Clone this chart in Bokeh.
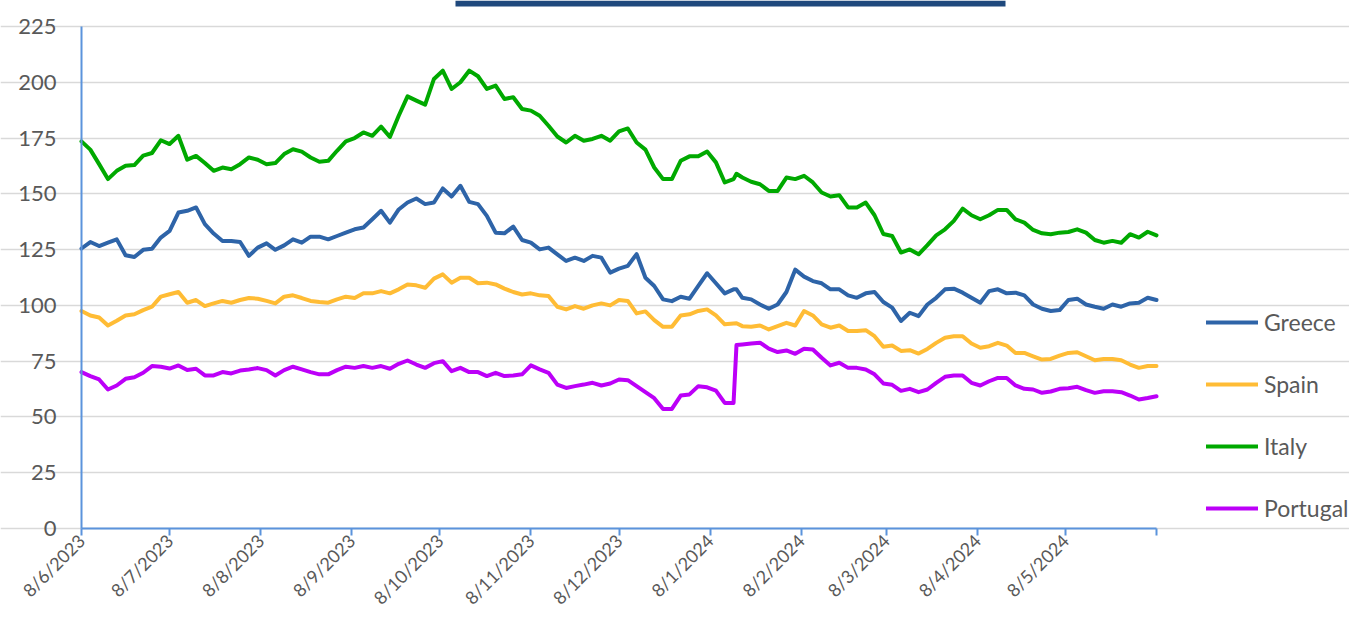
import math
import pandas as pd
from bokeh.plotting import figure
from bokeh.models import (FixedTicker, CustomJSTickFormatter, Legend, LegendItem,
                          BoxAnnotation, Range1d, ColumnDataSource)
from bokeh.embed import file_html
from bokeh.resources import INLINE

# ---------------- data ----------------
start_date = pd.Timestamp("2023-06-08")
end_date = pd.Timestamp("2024-06-08")
day_offsets = list(range(0, 223, 3)) + [223] + list(range(225, 367, 3))
dates = [start_date + pd.Timedelta(days=d) for d in day_offsets]

series_names = ["Greece", "Spain", "Italy", "Portugal"]

greece = [
    125.5, 128.4, 126.6, 128.1, 129.6, 122.5, 121.7, 124.9, 125.4, 130.4, 133.4, 141.6, 142.4, 143.9,
    136.4, 132.2, 128.9, 128.9, 128.4, 122.2, 125.9, 127.8, 124.9, 126.9, 129.6, 128.1, 130.8, 130.8,
    129.6, 131.1, 132.6,
    134.1, 134.9, 138.6, 142.4, 137.1, 143.0, 146.1, 147.9, 145.4, 146.1, 152.4, 148.8, 153.6, 146.4,
    145.4, 140.1, 132.6, 132.3, 135.3, 129.3, 128.1, 125.1, 125.9, 122.9, 119.9, 121.4, 119.9, 122.2,
    121.4, 114.7, 116.5,
    117.7, 123.0, 112.4, 108.7, 102.7, 101.9, 103.9, 103.0, 108.7, 114.4, 109.9, 105.4, 107.2, 107.2,
    103.4, 102.7, 100.4, 98.5, 100.4, 106.0, 116.0, 112.9, 110.9, 109.9, 107.2, 107.2, 104.5, 103.4,
    105.4, 106.0, 101.5,
    99.0, 93.0, 96.7, 95.2, 100.4, 103.4, 107.2, 107.5, 105.7, 103.4, 101.2, 106.4, 107.2, 105.4,
    105.7, 104.5, 100.4, 98.5, 97.5, 97.9, 102.4, 103.0, 100.4, 99.4, 98.5, 100.4, 99.4, 100.9,
    101.2, 103.4, 102.4,
]

spain = [
    97.5, 95.5, 94.6, 91.0, 93.1, 95.5, 96.0, 97.9, 99.4, 103.9, 105.0, 106.0, 101.2, 102.4,
    99.7, 100.9, 102.0, 101.2, 102.4, 103.3, 103.0, 102.0, 100.9, 103.9, 104.5, 103.3, 102.0, 101.5,
    101.2, 102.7, 103.9,
    103.3, 105.4, 105.4, 106.4, 105.4, 107.2, 109.4, 109.0, 107.9, 112.0, 113.9, 110.2, 112.4, 112.4,
    109.9, 110.2, 109.4, 107.5, 106.0, 104.9, 105.4, 104.5, 104.2, 99.4, 98.2, 99.7, 98.5, 100.0,
    100.9, 100.0, 102.4,
    102.0, 96.4, 97.3, 93.4, 90.4, 90.4, 95.5, 96.0, 97.5, 98.2, 95.5, 91.5, 91.9, 92.0,
    90.7, 90.4, 91.0, 89.2, 90.7, 92.2, 91.0, 97.5, 95.5, 91.5, 90.0, 91.0, 88.5, 88.5,
    88.9, 86.2, 81.5,
    82.0, 79.6, 79.9, 78.4, 80.5, 83.2, 85.5, 86.2, 86.2, 82.9, 81.0, 81.7, 83.2, 82.0,
    78.7, 78.7, 77.2, 75.7, 76.0, 77.5, 78.7, 79.0, 77.2, 75.4, 76.0, 76.0, 75.4, 73.5,
    72.0, 72.8, 72.8,
]

italy = [
    173.5, 169.8, 163.3, 156.6, 160.3, 162.6, 162.9, 167.1, 168.3, 174.0, 172.3, 176.0, 165.3, 167.0,
    163.8, 160.3, 161.8, 161.0, 163.3, 166.3, 165.3, 163.3, 163.8, 167.8, 170.0, 168.9, 166.3, 164.4,
    164.8, 169.3, 173.5,
    175.0, 177.5, 176.0, 180.1, 175.5, 185.0, 193.7, 191.8, 190.0, 201.5, 205.2, 197.0, 200.0, 205.2,
    202.7, 197.0, 198.5, 192.5, 193.3, 188.0, 187.3, 185.0, 180.5, 175.7, 173.0, 176.0, 173.8, 174.6,
    176.0, 173.8, 178.0,
    179.3, 173.0, 169.8, 161.8, 156.6, 156.6, 164.8, 166.8, 166.8, 169.0, 164.1, 155.1, 156.6, 159.0,
    157.3, 155.4, 154.3, 151.3, 151.3, 157.3, 156.6, 158.1, 155.1, 150.6, 148.8, 149.4, 143.9, 143.9,
    146.1, 140.4, 132.0,
    131.1, 123.7, 125.1, 122.9, 127.0, 131.4, 134.1, 137.9, 143.4, 140.4, 138.6, 140.4, 142.8, 142.8,
    138.6, 137.1, 133.8, 132.3, 131.9, 132.6, 132.9, 134.1, 132.6, 129.3, 128.1, 128.9, 128.1, 131.9,
    130.4, 133.0, 131.4,
]

portugal = [
    70.1, 68.3, 66.8, 62.3, 64.1, 67.1, 67.8, 69.8, 72.8, 72.5, 71.7, 73.1, 71.0, 71.6,
    68.6, 68.6, 70.1, 69.5, 70.8, 71.3, 71.9, 71.0, 68.6, 71.0, 72.5, 71.3, 70.1, 69.1,
    69.1, 71.0, 72.5,
    72.0, 72.8, 72.0, 72.8, 71.6, 73.8, 75.3, 73.5, 72.0, 74.1, 75.0, 70.5, 72.0, 70.1,
    70.1, 68.3, 69.8, 68.3, 68.6, 69.1, 73.1, 71.3, 69.8, 64.5, 63.0, 63.8, 64.5, 65.3,
    64.1, 65.0, 66.8,
    66.5, 63.8, 61.1, 58.4, 53.6, 53.6, 59.6, 60.1, 63.8, 63.3, 61.8, 56.3, 56.3, 82.2,
    82.5, 82.9, 83.3, 80.6, 79.1, 79.8, 78.3, 80.6, 80.2, 76.5, 73.1, 74.3, 72.0, 72.0,
    71.3, 69.1, 65.0,
    64.4, 61.7, 62.6, 61.1, 62.3, 65.3, 68.0, 68.6, 68.6, 65.3, 64.1, 66.0, 67.5, 67.5,
    64.1, 62.6, 62.3, 60.8, 61.4, 62.6, 62.9, 63.5, 62.0, 60.8, 61.5, 61.5, 61.1, 59.6,
    57.8, 58.5, 59.3,
]

y_ticks = [0, 25, 50, 75, 100, 125, 150, 175, 200, 225]
month_ticks = [pd.Timestamp(year=2023 + (5 + i) // 12, month=(5 + i) % 12 + 1, day=8) for i in range(13)]

colors = {"Greece": "#2E64A8", "Spain": "#FFBC35", "Italy": "#00A900", "Portugal": "#BC00F8"}

# ---------------- layout geometry (pixels) ----------------
W, H = 1349, 612
PLOT_L, PLOT_R = 81, 1156      # axis span, left/right
PLOT_T, PLOT_B = 26, 528       # y=225 and y=0 positions

span_days = (end_date - start_date).days
px_per_day = (PLOT_R - PLOT_L) / span_days
x_lo = start_date - pd.Timedelta(days=PLOT_L / px_per_day)
x_hi = end_date + pd.Timedelta(days=(W - PLOT_R) / px_per_day)
px_per_unit = (PLOT_B - PLOT_T) / 225.0
y_hi = 225 + PLOT_T / px_per_unit
y_lo = -(H - PLOT_B) / px_per_unit

start_ms = int(start_date.value // 10**6)
end_ms = int(end_date.value // 10**6)

FONT = "Lato"
TEXT_COLOR = "#595959"
AXIS_COLOR = "#5B93DC"

# the frame covers the whole canvas; axes are pinned inside it
p = figure(width=W, height=H, x_axis_type="datetime",
           output_backend="svg", toolbar_location=None,
           x_range=Range1d(x_lo, x_hi), y_range=Range1d(y_lo, y_hi),
           min_border_left=0, min_border_right=0, min_border_top=0, min_border_bottom=0)
p.outline_line_color = None
p.background_fill_color = "white"
p.border_fill_color = "white"

src = ColumnDataSource(dict(date=dates, Greece=greece, Spain=spain, Italy=italy, Portugal=portugal))

renderers = {}
for name in series_names:
    renderers[name] = p.line(x="date", y=name, source=src, line_width=4, color=colors[name],
                             line_join="round", line_cap="round")

# y axis
p.yaxis.fixed_location = start_ms
p.yaxis.ticker = FixedTicker(ticks=y_ticks, minor_ticks=[])
p.yaxis.bounds = (0, 225)
p.yaxis.axis_line_color = AXIS_COLOR
p.yaxis.axis_line_width = 2
p.yaxis.major_tick_line_color = None
p.yaxis.minor_tick_line_color = None
p.yaxis.major_tick_out = 0
p.yaxis.major_tick_in = 0
p.yaxis.major_label_standoff = 25
p.yaxis.major_label_text_font = FONT
p.yaxis.major_label_text_font_size = "22px"
p.yaxis.major_label_text_color = TEXT_COLOR

# x axis
tick_ms = [int(t.value // 10**6) for t in month_ticks]
p.xaxis.fixed_location = 0
p.xaxis.bounds = (start_ms, end_ms)
p.xaxis.ticker = FixedTicker(ticks=tick_ms, minor_ticks=[])
p.xaxis.formatter = CustomJSTickFormatter(args=dict(last=end_ms), code="""
    if (tick >= last - 1) { return ""; }
    const d = new Date(tick);
    return d.getUTCDate() + "/" + (d.getUTCMonth() + 1) + "/" + d.getUTCFullYear();
""")
p.xaxis.axis_line_color = AXIS_COLOR
p.xaxis.axis_line_width = 2
p.xaxis.major_tick_line_color = AXIS_COLOR
p.xaxis.major_tick_line_width = 2
p.xaxis.minor_tick_line_color = None
p.xaxis.major_tick_out = 7
p.xaxis.major_tick_in = 0
p.xaxis.major_label_orientation = math.pi / 4
p.xaxis.major_label_standoff = 2
p.xaxis.major_label_text_font = FONT
p.xaxis.major_label_text_font_size = "18px"
p.xaxis.major_label_text_color = TEXT_COLOR

# grid
p.xgrid.grid_line_color = None
p.ygrid.grid_line_color = "#D9D9D9"
p.ygrid.grid_line_width = 1.5
p.ygrid.bounds = (start_ms, end_ms)

# title bar remnant at the top
p.add_layout(BoxAnnotation(left=455, right=1005, top=0, bottom=6,
                           left_units="canvas", right_units="canvas",
                           top_units="canvas", bottom_units="canvas",
                           fill_color="#1F497D", fill_alpha=1, line_color=None))

# legend (right of the axes)
legend = Legend(items=[LegendItem(label=n, renderers=[renderers[n]]) for n in series_names],
                location=(1206, 90), orientation="vertical",
                glyph_width=52, glyph_height=28, label_height=28, label_standoff=6,
                spacing=34, padding=0, margin=0,
                border_line_color=None, background_fill_alpha=0,
                label_text_font=FONT, label_text_font_size="23px", label_text_color=TEXT_COLOR)
p.add_layout(legend, "center")

open("out.html", "w").write(file_html(p, INLINE))
